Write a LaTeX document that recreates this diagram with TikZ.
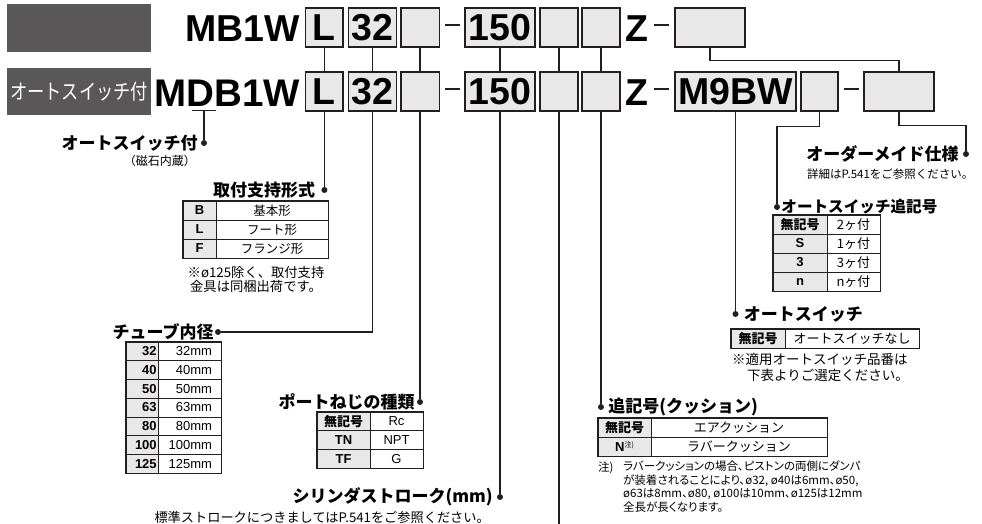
\documentclass[tikz,border=0pt]{standalone}
\usepackage{fontspec}
\setmainfont{Liberation Sans}
\newfontfamily\jp{Noto Sans CJK JP}
\newfontfamily\jpp{Noto Sans CJK JP}[RawFeature=+palt]
\usetikzlibrary{positioning}

\definecolor{boxgray}{HTML}{E8E8E8}
\definecolor{tabgray}{HTML}{5A5758}
\definecolor{linec}{HTML}{231F20}

\newcommand{\nokigo}{{\jp 無記号}}
\newcommand{\chu}{\raisebox{4pt}{\jp\mdseries\fontsize{7}{7}\selectfont 注)}}

\tikzset{
  code/.style={font=\bfseries\fontsize{37.5}{37.5}\selectfont, inner sep=0},
  codebox/.style={code, draw=linec, line width=1.3pt, fill=boxgray, minimum height=39pt},
  codedash/.style={inner sep=0, fill=linec, minimum width=15pt, minimum height=2pt},
  wire/.style={draw=linec, line width=1.4pt},
  pin/.style={circle, fill=linec, inner sep=0, minimum size=6pt},
  title/.style={font=\jp\bfseries\fontsize{17}{17}\selectfont, inner sep=0},
  note/.style={font=\jpp\fontsize{11.5}{13.4}\selectfont, inner sep=0},
  keycell/.style={draw=linec, line width=0.6pt, fill=boxgray, inner sep=0, font=\bfseries\fontsize{13}{13}\selectfont},
  valcell/.style={draw=linec, line width=0.6pt, fill=white, inner sep=0, font=\fontsize{13}{13}\selectfont},
  frame/.style={draw=linec, line width=1.2pt}
}

\begin{document}
\begin{tikzpicture}[x=1pt, y=-1pt]
\useasboundingbox (0,0) rectangle (982,524);

% Dark tabs on the left
\node[fill=tabgray, inner sep=0, minimum width=144pt, minimum height=48pt, anchor=north west] (tab1) at (7,4) {};
\node[fill=tabgray, inner sep=0, minimum width=144pt, minimum height=47pt, anchor=north west, text=white] (tab2) at (7,68)
  {\scalebox{0.82}[1]{\jp\fontsize{21}{21}\selectfont オートスイッチ付}};

% Model codes
\node[code, anchor=east] (tcode) at (300,29) {MB1W};
\node[code, font=\bfseries\fontsize{38.5}{38.5}\selectfont, anchor=east] (bcode) at (300,93) {MDB1W};

% Boxes shared by both rows
\foreach \n/\x/\w/\t in {l/324.4/37.3/L, 32/372.7/48/32, b3/420/38.3/{}, 150/500/70/150, b5/559/38/{}, b6/601/38/{}}{
  \node[codebox, minimum width=\w pt] (t\n) at (\x,27.5) {\t};
  \node[codebox, minimum width=\w pt] (b\n) at (\x,91.5) {\t};
  \draw[wire] (t\n) -- (b\n);
}
\node[codedash] (td1) at (452.5,25) {};
\node[codedash] (bd1) at (452.5,89) {};
\node[code] (tz) at (636.5,29) {Z};
\node[code] (bz) at (636.5,93) {Z};
\node[codedash] (td2) at (661.5,25) {};
\node[codedash] (bd2) at (661.5,89) {};

% Right part
\node[codebox, minimum width=70pt] (tlast) at (710,27.5) {};
\node[codebox, minimum width=121pt] (bm9) at (735.5,91.5) {M9BW};
\node[codebox, minimum width=37pt] (bb7) at (819.5,91.5) {};
\node[codedash] (bd3) at (851,89) {};
\node[codebox, minimum width=70pt] (blast) at (899,91.5) {};
\draw[wire] (tlast.south) -- ++(0,13) -| (blast.north);

% Underline of D and its lead
\coordinate (dmark) at (204,111);
\draw[linec, line width=1pt] ([xshift=-12pt]dmark) -- ([xshift=12pt]dmark);
\node[pin] (pd) at (204,143) {};
\draw[wire] (dmark) -- (pd);
\node[title, left=3pt of pd] (lsw) {オートスイッチ付};
\node[note, font=\jp\fontsize{12}{12}\selectfont, anchor=east] (lswsub) at (196,161) {（磁石内蔵）};

% Leads from the lower row
\node[pin] (pl) at (324.4,190) {};
\draw[wire] (bl) -- (pl);
\node[pin] (ptube) at (218,332) {};
\draw[wire] (b32) |- (ptube);
\node[pin] (pport) at (420,402) {};
\draw[wire] (bb3) -- (pport);
\node[pin] (pstroke) at (500,497) {};
\draw[wire] (b150) -- (pstroke);
\coordinate (end5) at (559,524);
\draw[wire] (bb5) -- (end5);
\node[pin] (pcush) at (601,407) {};
\draw[wire] (bb6) -- (pcush);
\node[pin] (psw) at (735.5,314) {};
\draw[wire] (bm9) -- (psw);
\node[pin] (pswn) at (777,207) {};
\draw[wire] (bb7.south) -- ++(0,15) -| (pswn);
\node[pin] (pomd) at (966,154) {};
\draw[wire] (blast.south) -- ++(0,14) -| (pomd);

% Titles
\node[title, left=6pt of pl] (lmount) {取付支持形式};
\node[title, left=1pt of ptube] (ltube) {チューブ内径};
\node[title, left=2pt of pport] (lport) {ポートねじの種類};
\node[title, left=4pt of pstroke] (lstroke) {シリンダストローク(mm)};
\node[title, right=4pt of pcush] (lcush) {追記号(クッション)};
\node[title, right=5pt of psw] (lsw2) {オートスイッチ};
\node[title, font=\jp\bfseries\fontsize{15.6}{15.6}\selectfont, right=1pt of pswn] (lswn) {オートスイッチ追記号};
\node[title, left=4pt of pomd] (lomd) {オーダーメイド仕様};

% Mounting style table
\foreach \k/\v [count=\i] in {B/基本形, L/フート形, F/フランジ形}{
  \node[keycell, minimum width=33pt, minimum height=19pt] (mk\i) at (199.5,191.5+19*\i) {\k};
  \node[valcell, font=\jp\fontsize{12.5}{12.5}\selectfont, minimum width=112pt, minimum height=19pt] (mv\i) at (272,191.5+19*\i) {\v};
}
\draw[frame] (mk1.north west) rectangle (mv3.south east);
\node[note, font=\jp\fontsize{13.3}{14}\selectfont, align=center] (mnote) at (256,279) {※ø125除く、取付支持\\金具は同梱出荷です。};

% Bore size table
\foreach \k [count=\i] in {32,40,50,63,80,100,125}{
  \node[keycell, text width=29.4pt, align=right, minimum width=32pt, minimum height=18.7pt] (bk\i) at (142,332.65+18.71*\i) {\k};
  \node[valcell, text width=45pt, align=right, minimum width=63pt, minimum height=18.7pt] (bv\i) at (189.5,332.65+18.71*\i) {\k mm};
}
\draw[frame] (bk1.north west) rectangle (bv7.south east);

% Port thread table
\foreach \k/\v [count=\i] in {\nokigo/Rc, TN/NPT, TF/G}{
  \node[keycell, minimum width=53pt, minimum height=18.7pt] (pk\i) at (343.5,402.67+18.67*\i) {\k};
  \node[valcell, minimum width=53pt, minimum height=18.7pt] (pv\i) at (396.5,402.67+18.67*\i) {\v};
}
\draw[frame] (pk1.north west) rectangle (pv3.south east);
\node[note, font=\jp\fontsize{13.2}{13.2}\selectfont, anchor=east] (snote) at (490,517) {標準ストロークにつきましてはP.541をご参照ください。};

% Cushion table
\foreach \k/\v [count=\i] in {\nokigo/エアクッション, N\chu/ラバークッション}{
  \node[keycell, minimum width=53pt, minimum height=19pt] (ck\i) at (624.5,408.5+19*\i) {\k};
  \node[valcell, font=\jp\fontsize{13}{13}\selectfont, minimum width=176pt, minimum height=19pt] (cv\i) at (739,408.5+19*\i) {\v};
}
\draw[frame] (ck1.north west) rectangle (cv2.south east);
\node[note, anchor=west] (cnote0) at (598,468) {注)};
\node[note, anchor=north west, align=left] (cnote) at (623,461)
  {ラバークッションの場合、ピストンの両側にダンパ\\が装着されることにより、ø32, ø40は6mm、ø50,\\ø63は8mm、ø80, ø100は10mm、ø125は12mm\\全長が長くなります。};

% Auto switch table
\node[keycell, minimum width=54pt, minimum height=19pt] (ak) at (758,338.5) {\nokigo};
\node[valcell, font=\jp\fontsize{13}{13}\selectfont, minimum width=134pt, minimum height=19pt] (av) at (852,338.5) {オートスイッチなし};
\draw[frame] (ak.north west) rectangle (av.south east);
\node[note, font=\jp\fontsize{13.5}{16}\selectfont, anchor=north west, align=left] (anote) at (732,353)
  {※適用オートスイッチ品番は\\\hspace*{15pt}下表よりご選定ください。};

% Number of switches table
\foreach \k/\v [count=\i] in {\nokigo/2ヶ付, S/1ヶ付, 3/3ヶ付, n/nヶ付}{
  \node[keycell, minimum width=54pt, minimum height=19pt] (nk\i) at (800,205.5+19*\i) {\k};
  \node[valcell, font=\jp\fontsize{13}{13}\selectfont, minimum width=53pt, minimum height=19pt] (nv\i) at (853.5,205.5+19*\i) {\v};
}
\draw[frame] (nk1.north west) rectangle (nv4.south east);

% Made to order note
\node[note, font=\jp\fontsize{11.5}{11.5}\selectfont, anchor=west] (onote) at (807,174) {詳細はP.541をご参照ください。};

\end{tikzpicture}
\end{document}
